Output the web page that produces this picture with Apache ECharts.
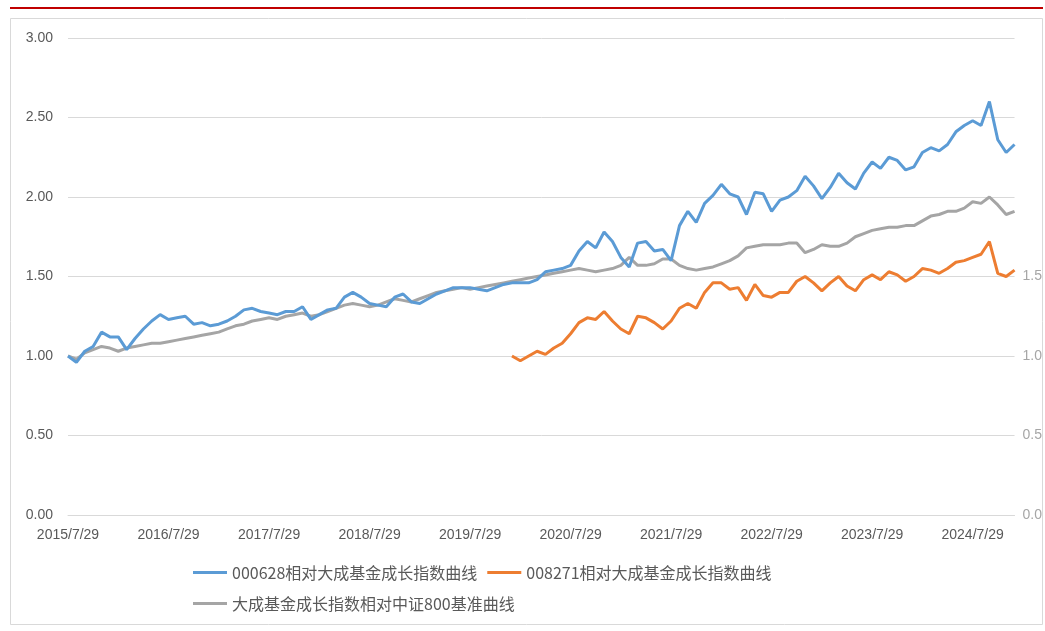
<!DOCTYPE html>
<html>
<head>
<meta charset="utf-8">
<script src="https://cdn.jsdelivr.net/npm/echarts@6/dist/echarts.min.js"></script>
<style>html,body{margin:0;padding:0;background:#fff;}#c{width:1045px;height:631px;}</style>
</head>
<body>
<div id="c"></div>
<script>
// monthly categories 2015/7/29 ... 2024/12/29
const categories = [];
for (let y = 2015; y <= 2024; y++) {
  for (let m = 1; m <= 12; m++) {
    if (y === 2015 && m < 7) continue;
    categories.push(y + '/' + m + '/29');
  }
}
const seriesNames = ['000628相对大成基金成长指数曲线', '008271相对大成基金成长指数曲线', '大成基金成长指数相对中证800基准曲线'];
const fund000628 = [
  1.00,0.96,1.03,1.06,1.15,1.12,1.12,1.04,1.11,1.17,1.22,1.26,
  1.23,1.24,1.25,1.20,1.21,1.19,1.20,1.22,1.25,1.29,1.30,1.28,
  1.27,1.26,1.28,1.28,1.31,1.23,1.26,1.29,1.30,1.37,1.40,1.37,
  1.33,1.32,1.31,1.37,1.39,1.34,1.33,1.36,1.39,1.41,1.43,1.43,
  1.43,1.42,1.41,1.43,1.45,1.46,1.46,1.46,1.48,1.53,1.54,1.55,
  1.57,1.66,1.72,1.68,1.78,1.72,1.62,1.56,1.71,1.72,1.66,1.67,
  1.60,1.82,1.91,1.84,1.96,2.01,2.08,2.02,2.00,1.89,2.03,2.02,
  1.91,1.98,2.00,2.04,2.13,2.07,1.99,2.06,2.15,2.09,2.05,2.15,
  2.22,2.18,2.25,2.23,2.17,2.19,2.28,2.31,2.29,2.33,2.41,2.45,
  2.48,2.45,2.60,2.36,2.28,2.33
];
const fund008271 = [
  null,null,null,null,null,null,null,null,null,null,null,null,
  null,null,null,null,null,null,null,null,null,null,null,null,
  null,null,null,null,null,null,null,null,null,null,null,null,
  null,null,null,null,null,null,null,null,null,null,null,null,
  null,null,null,null,null,1.00,0.97,1.00,1.03,1.01,1.05,1.08,
  1.14,1.21,1.24,1.23,1.28,1.22,1.17,1.14,1.25,1.24,1.21,1.17,
  1.22,1.30,1.33,1.30,1.40,1.46,1.46,1.42,1.43,1.35,1.45,1.38,
  1.37,1.40,1.40,1.47,1.50,1.46,1.41,1.46,1.50,1.44,1.41,1.48,
  1.51,1.48,1.53,1.51,1.47,1.50,1.55,1.54,1.52,1.55,1.59,1.60,
  1.62,1.64,1.72,1.52,1.50,1.54
];
const indexVs800 = [
  1.00,0.98,1.02,1.04,1.06,1.05,1.03,1.05,1.06,1.07,1.08,1.08,
  1.09,1.10,1.11,1.12,1.13,1.14,1.15,1.17,1.19,1.20,1.22,1.23,
  1.24,1.23,1.25,1.26,1.27,1.25,1.26,1.28,1.30,1.32,1.33,1.32,
  1.31,1.32,1.34,1.36,1.35,1.34,1.36,1.38,1.40,1.41,1.42,1.43,
  1.42,1.43,1.44,1.45,1.46,1.47,1.48,1.49,1.50,1.51,1.52,1.53,
  1.54,1.55,1.54,1.53,1.54,1.55,1.57,1.62,1.57,1.57,1.58,1.61,
  1.61,1.57,1.55,1.54,1.55,1.56,1.58,1.60,1.63,1.68,1.69,1.70,
  1.70,1.70,1.71,1.71,1.65,1.67,1.70,1.69,1.69,1.71,1.75,1.77,
  1.79,1.80,1.81,1.81,1.82,1.82,1.85,1.88,1.89,1.91,1.91,1.93,
  1.97,1.96,2.00,1.95,1.89,1.91
];
const leftTicks = { min: 0, max: 3, interval: 0.5 };
const colors = ['#5B9BD5', '#ED7D31', '#A5A5A5'];

const chart = echarts.init(document.getElementById('c'), null, { renderer: 'canvas' });
const txt = '#595959';
chart.setOption({
  animation: false,
  backgroundColor: '#ffffff',
  color: colors,
  graphic: [
    { type: 'rect', shape: { x: 10, y: 7, width: 1033, height: 2 }, style: { fill: '#C00000' }, silent: true },
    { type: 'rect', shape: { x: 10.5, y: 18.5, width: 1032, height: 606 }, style: { fill: 'none', stroke: '#D9D9D9', lineWidth: 1 }, silent: true, z: -1 }
  ],
  grid: { left: 68, right: 20, top: 38, bottom: 116, containLabel: false },
  legend: {
    data: seriesNames,
    left: 188, top: 557, width: 640,
    itemGap: 10, itemWidth: 34, itemHeight: 3, icon: 'rect',
    textStyle: { fontSize: 16, color: txt, fontFamily: 'Noto Sans CJK SC', lineHeight: 21 }
  },
  xAxis: {
    type: 'category', data: categories, boundaryGap: false,
    axisLine: { show: true, lineStyle: { color: '#D9D9D9' } },
    axisTick: { show: false },
    axisLabel: { interval: 11, color: txt, fontSize: 14, fontFamily: 'Liberation Sans', margin: 13 },
    splitLine: { show: false }
  },
  yAxis: [
    {
      type: 'value', min: leftTicks.min, max: leftTicks.max, interval: leftTicks.interval,
      axisLine: { show: false }, axisTick: { show: false },
      axisLabel: { color: txt, fontSize: 14, fontFamily: 'Liberation Sans', margin: 15, formatter: v => v.toFixed(2) },
      splitLine: { lineStyle: { color: '#D9D9D9', width: 1 } }
    },
    {
      type: 'value', min: leftTicks.min, max: leftTicks.max, interval: leftTicks.interval, position: 'right',
      axisLine: { show: false }, axisTick: { show: false },
      axisLabel: { color: '#A6A6A6', fontSize: 14, fontFamily: 'Liberation Sans', margin: 8, formatter: v => (v <= 1.5 ? v.toFixed(1) : '') },
      splitLine: { show: false }
    }
  ],
  series: [
    { name: seriesNames[0], type: 'line', data: fund000628, showSymbol: false, lineStyle: { width: 3, color: colors[0] }, itemStyle: { color: colors[0] }, z: 3 },
    { name: seriesNames[1], type: 'line', yAxisIndex: 1, data: fund008271, showSymbol: false, connectNulls: false, lineStyle: { width: 3, color: colors[1] }, itemStyle: { color: colors[1] }, z: 2 },
    { name: seriesNames[2], type: 'line', data: indexVs800, showSymbol: false, lineStyle: { width: 3, color: colors[2] }, itemStyle: { color: colors[2] }, z: 1 }
  ]
});
</script>
</body>
</html>
